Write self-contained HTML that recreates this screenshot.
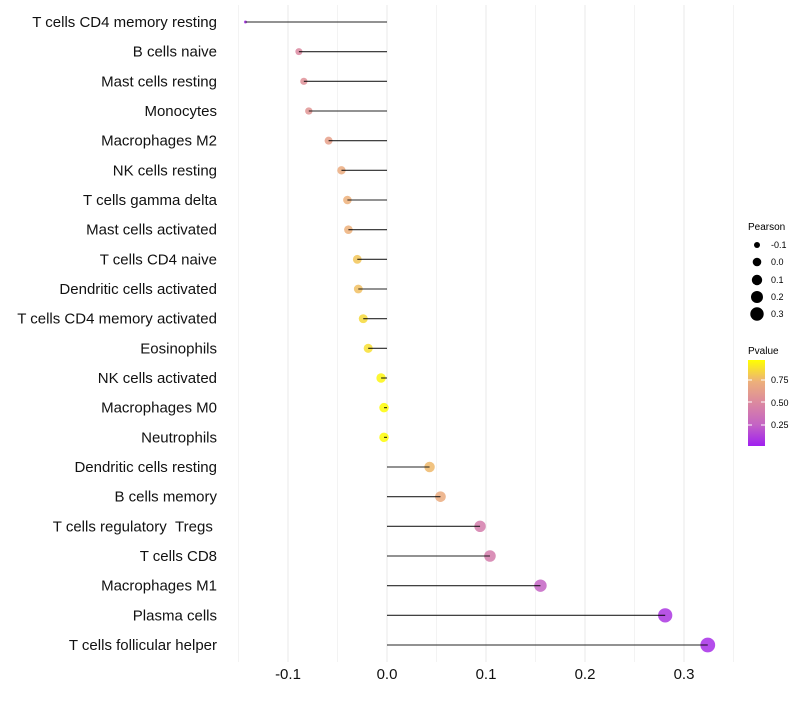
<!DOCTYPE html>
<html><head><meta charset="utf-8"><style>
body{margin:0;background:#fff;font-family:"Liberation Sans",sans-serif}
</style></head><body>
<svg id="chart" width="800" height="700" xmlns="http://www.w3.org/2000/svg" font-family="Liberation Sans, sans-serif">
<defs><linearGradient id="pg" x1="0" y1="1" x2="0" y2="0">
<stop offset="0" stop-color="#A020F0"/><stop offset="0.25" stop-color="#C464C4"/><stop offset="0.5" stop-color="#DB88A0"/><stop offset="0.75" stop-color="#EDB07A"/><stop offset="1" stop-color="#FFFF00"/></linearGradient></defs>
<g id="grid"></g><g id="marks"></g><g id="axes"></g>
<g font-size="9">
<text x="748" y="230" font-size="10">Pearson</text>
<circle cx="757" cy="245" r="3" fill="#000"/><text x="771" y="248">-0.1</text>
<circle cx="757" cy="262" r="4.3" fill="#000"/><text x="771" y="265">0.0</text>
<circle cx="757" cy="280" r="5.2" fill="#000"/><text x="771" y="283">0.1</text>
<circle cx="757" cy="297" r="6" fill="#000"/><text x="771" y="300">0.2</text>
<circle cx="757" cy="314" r="6.7" fill="#000"/><text x="771" y="317">0.3</text>
</g>
<g font-size="9">
<text x="748" y="354" font-size="10">Pvalue</text>
<rect x="748" y="360" width="17" height="86" fill="url(#pg)"/>
<line x1="748" y1="380" x2="752" y2="380" stroke="#fff"/><line x1="761" y1="380" x2="765" y2="380" stroke="#fff"/>
<line x1="748" y1="402" x2="752" y2="402" stroke="#fff"/><line x1="761" y1="402" x2="765" y2="402" stroke="#fff"/>
<line x1="748" y1="425" x2="752" y2="425" stroke="#fff"/><line x1="761" y1="425" x2="765" y2="425" stroke="#fff"/>
<text x="771" y="383">0.75</text><text x="771" y="406">0.50</text><text x="771" y="428">0.25</text>
</g>
</svg>
<script>
const categories=["T cells CD4 memory resting","B cells naive","Mast cells resting","Monocytes","Macrophages M2","NK cells resting","T cells gamma delta","Mast cells activated","T cells CD4 naive","Dendritic cells activated","T cells CD4 memory activated","Eosinophils","NK cells activated","Macrophages M0","Neutrophils","Dendritic cells resting","B cells memory","T cells regulatory\u00a0\u00a0Tregs\u00a0","T cells CD8","Macrophages M1","Plasma cells","T cells follicular helper"];
const pearson=[-0.143,-0.089,-0.084,-0.079,-0.059,-0.046,-0.040,-0.039,-0.030,-0.029,-0.024,-0.019,-0.006,-0.003,-0.003,0.043,0.054,0.094,0.104,0.155,0.281,0.324];
const pvalues=[0.05,0.5,0.55,0.58,0.65,0.72,0.75,0.75,0.82,0.8,0.88,0.9,0.97,0.99,0.99,0.78,0.72,0.42,0.42,0.25,0.08,0.05];
const xTicks=[-0.1,0,0.1,0.2,0.3];
const xTickLabels=["-0.1","0.0","0.1","0.2","0.3"];
const NS="http://www.w3.org/2000/svg";
const x=v=>387+v*990;
const y=i=>22+i*(623/21);
function mk(t,a,p){const e=document.createElementNS(NS,t);for(const k in a)e.setAttribute(k,a[k]);p.appendChild(e);return e;}
const stops=[[0,[160,32,240]],[0.25,[196,100,196]],[0.5,[219,136,160]],[0.75,[237,176,122]],[1,[255,255,0]]];
function col(p){for(let i=1;i<stops.length;i++){if(p<=stops[i][0]){const a=stops[i-1],b=stops[i],t=(p-a[0])/(b[0]-a[0]);return 'rgb('+a[1].map((c,j)=>Math.round(c+(b[1][j]-c)*t)).join(',')+')';}}return 'rgb(255,255,0)';}
const grid=document.getElementById('grid'),marks=document.getElementById('marks'),axes=document.getElementById('axes');
for(let v=-0.15;v<=0.351;v+=0.05){const e=mk('line',{x1:x(v),x2:x(v),y1:5,y2:662,stroke:'#ebebeb','stroke-width':Math.abs(Math.round(v*100))%10===0?1.1:0.6},grid);

}
const mn=Math.min(...pearson),mx=Math.max(...pearson);
categories.forEach((c,i)=>{
 const r=1.5+5.9*Math.sqrt((pearson[i]-mn)/(mx-mn));
 const ci=mk('circle',{cx:x(pearson[i]),cy:y(i),r:r,fill:col(pvalues[i]),'fill-opacity':0.85},marks);
 
 
 const ln=mk('line',{x1:x(0),x2:x(pearson[i]),y1:y(i),y2:y(i),stroke:'#000','stroke-width':1.1,'stroke-opacity':0.85},marks);
 
 
 const t=mk('text',{x:217,y:y(i)+5,'text-anchor':'end','font-size':15,fill:'#111'},axes);t.textContent=c;
 
 
});
xTicks.forEach((v,i)=>{const t=mk('text',{x:x(v),y:679,'text-anchor':'middle','font-size':15,fill:'#111'},axes);t.textContent=xTickLabels[i];
 
 });
</script>
</body></html>
